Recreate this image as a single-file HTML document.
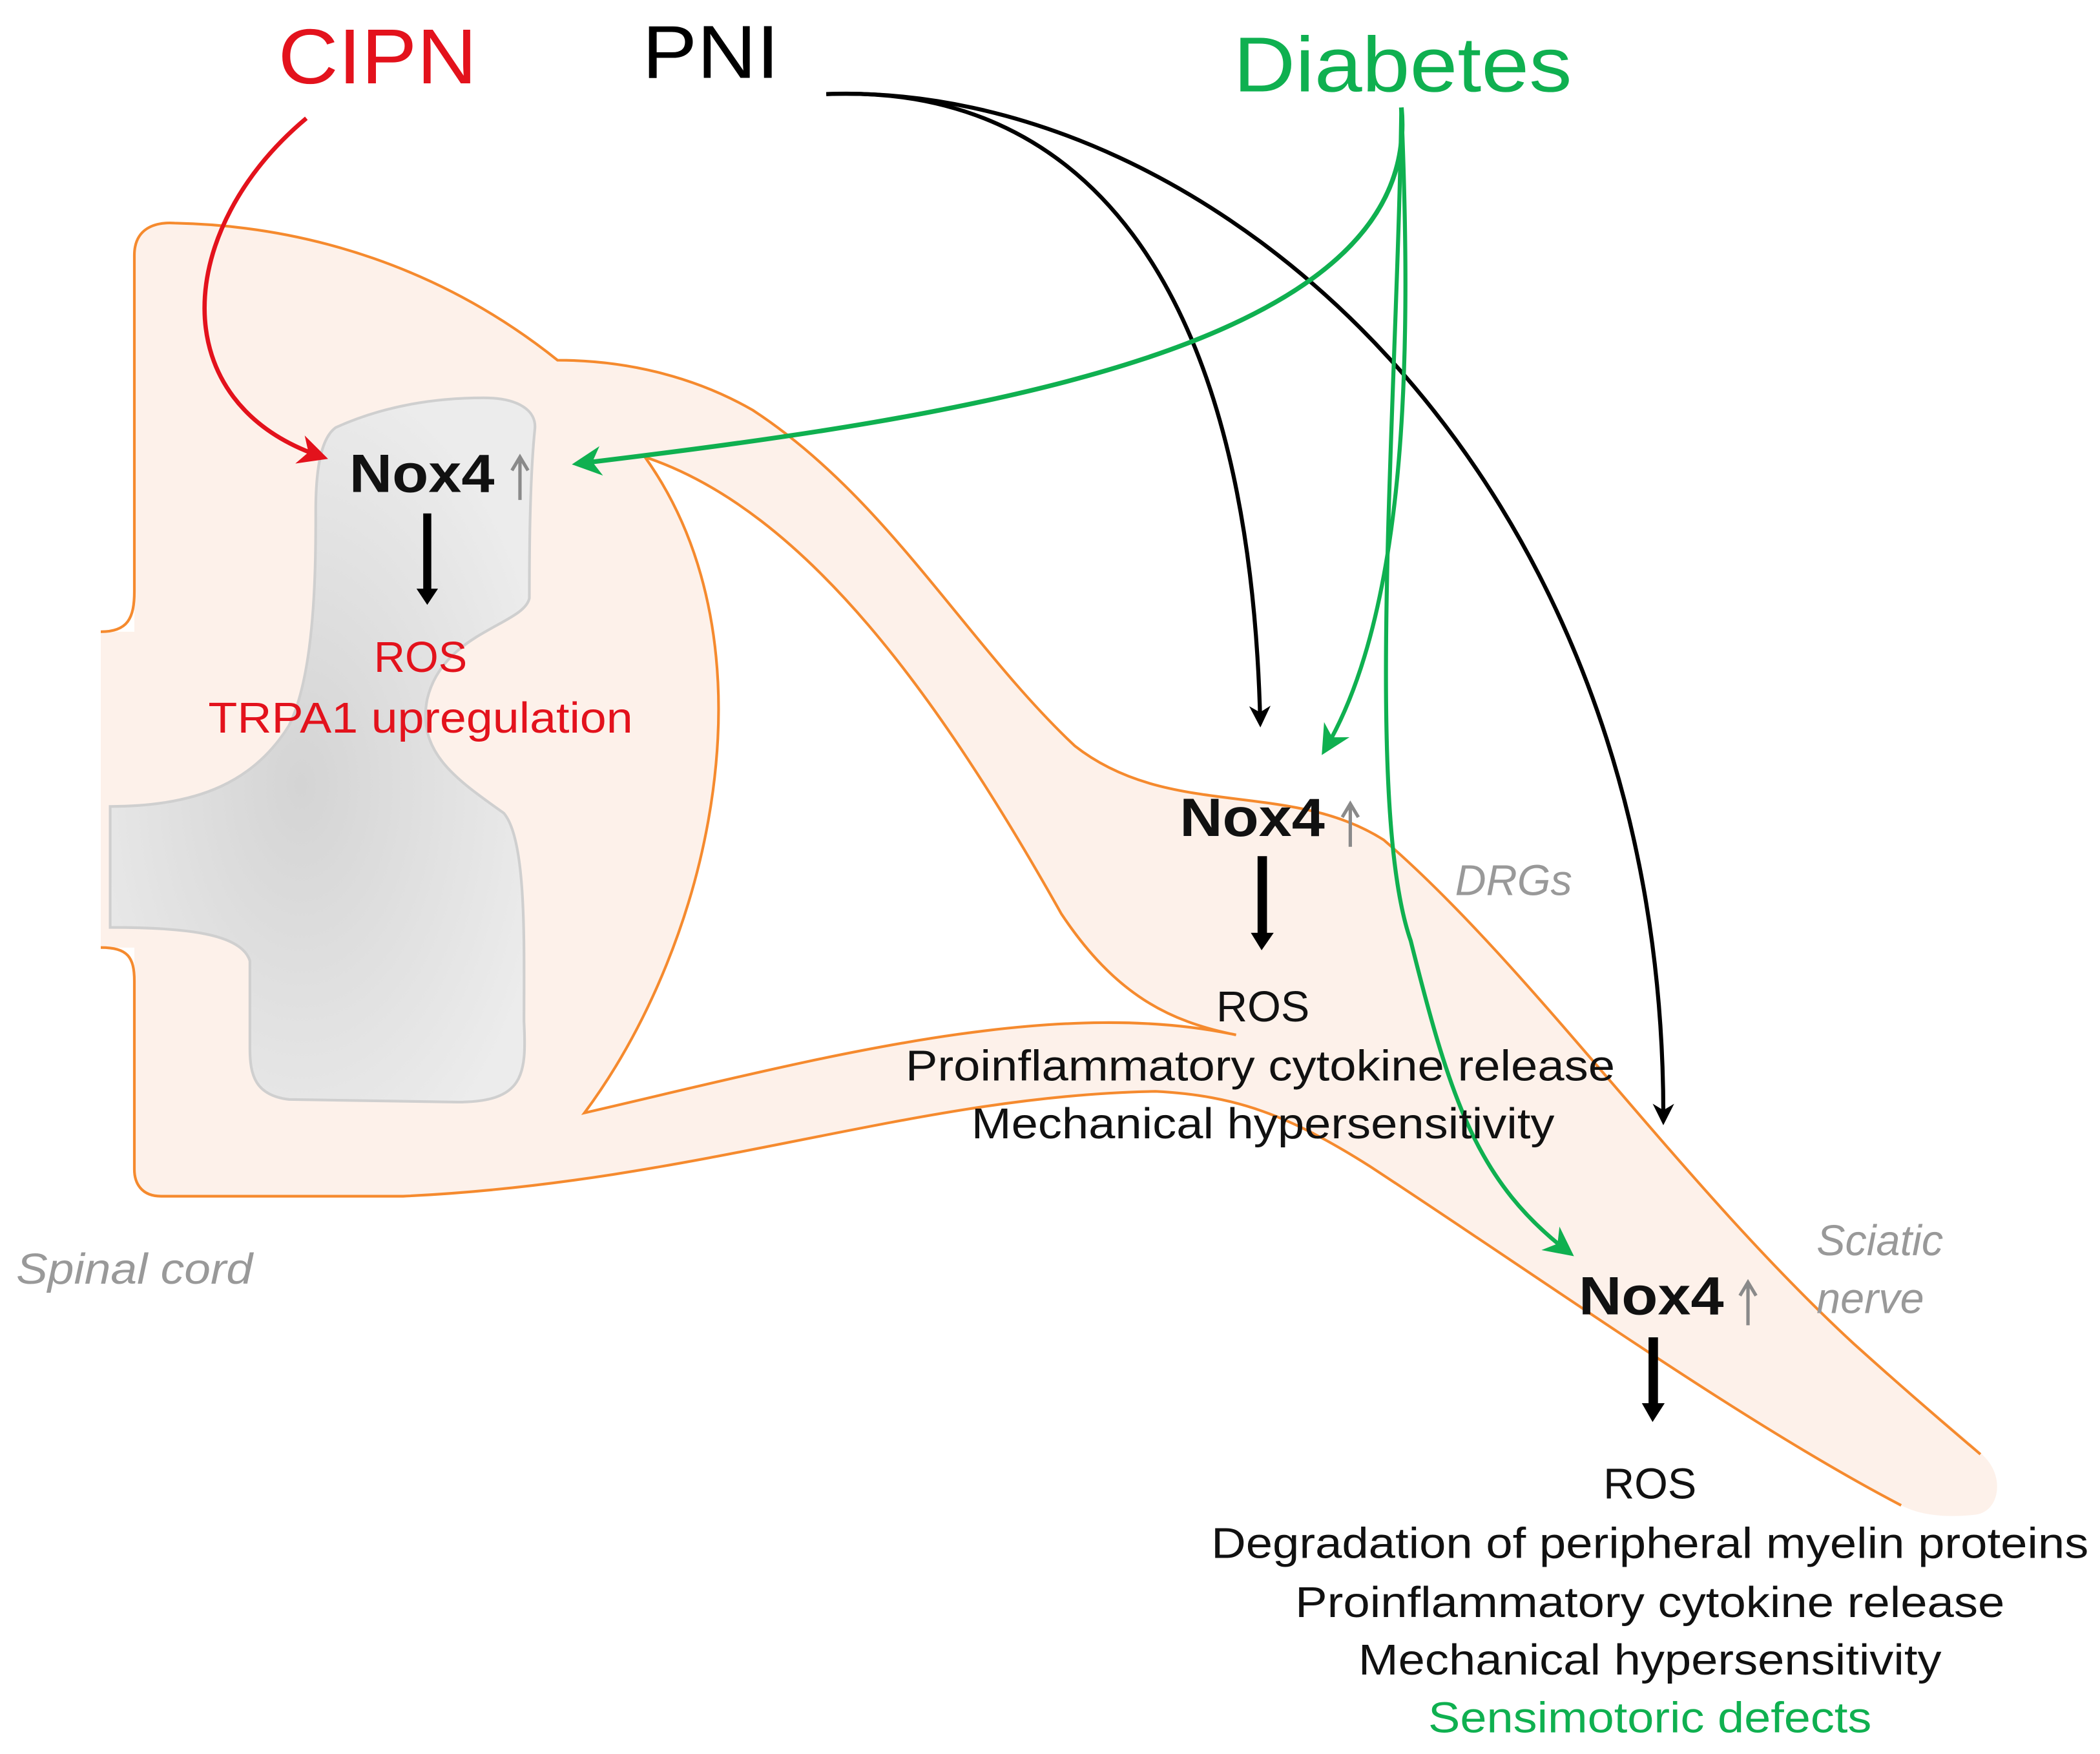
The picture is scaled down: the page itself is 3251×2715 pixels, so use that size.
<!DOCTYPE html>
<html><head><meta charset="utf-8"><style>
html,body{margin:0;padding:0;background:#fff;}
svg{display:block;}
text{font-family:"Liberation Sans",Arial,sans-serif;}
</style></head><body>
<svg width="3251" height="2715" viewBox="0 0 1563 1305" preserveAspectRatio="none" xmlns="http://www.w3.org/2000/svg">
<defs>
<marker id="abk" viewBox="0 0 10 10" refX="8" refY="5" markerWidth="16" markerHeight="16" orient="auto" markerUnits="userSpaceOnUse"><path d="M0,0 L10,5 L0,10 L3,5 Z" fill="#000"/></marker>
<marker id="ar" viewBox="0 0 10 10" refX="8" refY="5" markerWidth="22" markerHeight="22" orient="auto" markerUnits="userSpaceOnUse"><path d="M0,0 L10,5 L0,10 L3,5 Z" fill="#e3121c"/></marker>
<marker id="ag" viewBox="0 0 10 10" refX="8" refY="5" markerWidth="22" markerHeight="22" orient="auto" markerUnits="userSpaceOnUse"><path d="M0,0 L10,5 L0,10 L3,5 Z" fill="#0fb050"/></marker>
<radialGradient id="gg" cx="0.45" cy="0.55" r="0.6"><stop offset="0" stop-color="#d4d4d4"/><stop offset="1" stop-color="#ececec"/></radialGradient>
</defs>

<path d="M75,470 L100,470 L100,190 C100,170 115,165 130,166 C230,168 330,200 415,268 C470,268 520,282 560,305 C660,370 720,480 800,555 C870,610 960,580 1030,625 C1140,720 1250,880 1380,1000 C1430,1045 1465,1070 1478,1085 C1492,1100 1488,1125 1470,1127 C1440,1130 1425,1125 1415,1120 C1300,1060 1160,960 1020,868 C960,830 920,815 860,812 C680,815 520,880 300,890 L120,890 C105,890 100,880 100,870 L100,705 L75,705 Z" fill="#fdf1ea" stroke="none"/>
<path d="M75,470 C95,470 100,460 100,440 L100,190 C100,170 115,165 130,166 C230,168 330,200 415,268 C470,268 520,282 560,305 C660,370 720,480 800,555 C870,610 960,580 1030,625 C1140,720 1250,880 1380,1000 C1430,1045 1460,1070 1474,1082" fill="none" stroke="#f58a2e" stroke-width="2"/>
<path d="M1415,1120 C1300,1060 1160,960 1020,868 C960,830 920,815 860,812 C680,815 520,880 300,890 L120,890 C105,890 100,880 100,870 L100,730 C100,712 95,705 75,705" fill="none" stroke="#f58a2e" stroke-width="2"/>
<path d="M480,340 C600,380 700,520 790,680 C830,740 870,760 920,770 C780,740 600,790 435,828 C530,700 580,480 480,340 Z" fill="#fff" stroke="#f58a2e" stroke-width="2"/>
<path d="M250,318 C290,300 330,296 360,296 C385,296 400,305 398,320 C394,360 394,420 394,445 C390,465 330,470 318,520 C310,560 340,580 375,605 C392,625 390,700 390,760 C392,800 390,820 340,820 L215,818 C190,815 186,800 186,780 L186,715 C180,695 140,690 82,690 L82,600 C150,600 190,580 215,540 C235,500 235,420 235,380 C235,345 240,325 250,318 Z" fill="url(#gg)" stroke="#cfcfcf" stroke-width="2"/>

<path d="M228,88 C130,170 120,300 240,340" fill="none" stroke="#e3121c" stroke-width="3.2" marker-end="url(#ar)"/>
<path d="M615,70 C800,62 930,200 938,538" fill="none" stroke="#000" stroke-width="3" marker-end="url(#abk)"/>
<path d="M615,70 C900,60 1240,350 1238,834" fill="none" stroke="#000" stroke-width="3" marker-end="url(#abk)"/>
<path d="M1043,80 C1060,260 720,310 430,345" fill="none" stroke="#0fb050" stroke-width="3.5" marker-end="url(#ag)"/>
<path d="M1043,80 C1050,250 1050,450 986,558" fill="none" stroke="#0fb050" stroke-width="3" marker-end="url(#ag)"/>
<path d="M1043,80 C1040,300 1015,600 1050,700 C1080,820 1100,880 1168,932" fill="none" stroke="#0fb050" stroke-width="3" marker-end="url(#ag)"/>

<g fill="#000">
<rect x="315" y="382" width="6" height="58"/><path d="M310,438 L326,438 L318,450 Z"/>
<rect x="936" y="637" width="7" height="60"/><path d="M931,694 L948,694 L939,707 Z"/>
<rect x="1227" y="995" width="7" height="52"/><path d="M1222,1044 L1239,1044 L1230,1058 Z"/>
</g>
<!-- gray up arrows -->
<g stroke="#8a8a8a" stroke-width="2.5" fill="none">
<path d="M387,372 L387,342 M381,350 L387,340 L393,350"/>
<path d="M1005,630 L1005,600 M999,608 L1005,598 L1011,608"/>
<path d="M1301,986 L1301,956 M1295,964 L1301,954 L1307,964"/>
</g>

<text x="207" y="62" font-size="58" fill="#e3121c" textLength="148" lengthAdjust="spacingAndGlyphs">CIPN</text>
<text x="478" y="58" font-size="56" fill="#000" textLength="102" lengthAdjust="spacingAndGlyphs">PNI</text>
<text x="918" y="68" font-size="58" fill="#0fb050" textLength="252" lengthAdjust="spacingAndGlyphs">Diabetes</text>

<text x="260" y="366" font-size="40" font-weight="bold" fill="#111" textLength="108" lengthAdjust="spacingAndGlyphs">Nox4</text>
<text x="313" y="500" font-size="32" fill="#e3121c" text-anchor="middle">ROS</text>
<text x="313" y="545" font-size="32" fill="#e3121c" text-anchor="middle" textLength="316" lengthAdjust="spacingAndGlyphs">TRPA1 upregulation</text>

<text x="878" y="622" font-size="40" font-weight="bold" fill="#111" textLength="108" lengthAdjust="spacingAndGlyphs">Nox4</text>
<text x="940" y="760" font-size="32" fill="#111" text-anchor="middle">ROS</text>
<text x="938" y="804" font-size="32" fill="#111" text-anchor="middle" textLength="528" lengthAdjust="spacingAndGlyphs">Proinflammatory cytokine release</text>
<text x="940" y="847" font-size="32" fill="#111" text-anchor="middle" textLength="434" lengthAdjust="spacingAndGlyphs">Mechanical hypersensitivity</text>

<text x="1175" y="978" font-size="40" font-weight="bold" fill="#111" textLength="108" lengthAdjust="spacingAndGlyphs">Nox4</text>
<text x="1228" y="1115" font-size="32" fill="#111" text-anchor="middle">ROS</text>
<text x="1228" y="1159" font-size="32" fill="#111" text-anchor="middle" textLength="653" lengthAdjust="spacingAndGlyphs">Degradation of peripheral myelin proteins</text>
<text x="1228" y="1203" font-size="32" fill="#111" text-anchor="middle" textLength="528" lengthAdjust="spacingAndGlyphs">Proinflammatory cytokine release</text>
<text x="1228" y="1246" font-size="32" fill="#111" text-anchor="middle" textLength="434" lengthAdjust="spacingAndGlyphs">Mechanical hypersensitivity</text>
<text x="1228" y="1289" font-size="32" fill="#0fb050" text-anchor="middle" textLength="330" lengthAdjust="spacingAndGlyphs">Sensimotoric defects</text>

<text x="1083" y="666" font-size="32" font-style="italic" fill="#999">DRGs</text>
<text x="1352" y="934" font-size="32" font-style="italic" fill="#999">Sciatic</text>
<text x="1352" y="977" font-size="32" font-style="italic" fill="#999">nerve</text>
<text x="12" y="955" font-size="32" font-style="italic" fill="#999" textLength="176" lengthAdjust="spacingAndGlyphs">Spinal cord</text>
</svg>
</body></html>
